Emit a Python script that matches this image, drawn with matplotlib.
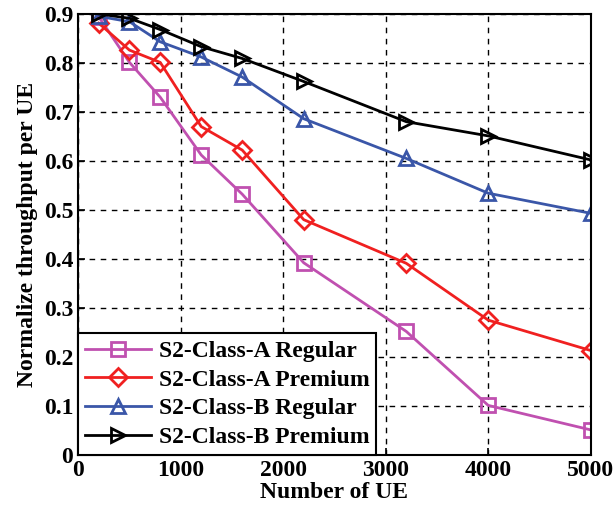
import matplotlib
matplotlib.use('Agg')
import matplotlib.pyplot as plt

# Throughput per UE versus the number of UEs for each service class
num_ue = [200, 500, 800, 1200, 1600, 2200, 3200, 4000, 5000]
class_a_regular = [0.894, 0.801, 0.730, 0.612, 0.532, 0.392, 0.252, 0.101, 0.051]
class_a_premium = [0.881, 0.826, 0.801, 0.670, 0.622, 0.480, 0.391, 0.275, 0.213]
class_b_regular = [0.895, 0.884, 0.843, 0.812, 0.771, 0.686, 0.605, 0.534, 0.493]
class_b_premium = [0.900, 0.891, 0.868, 0.833, 0.809, 0.762, 0.680, 0.651, 0.602]

labels = ['S2-Class-A Regular', 'S2-Class-A Premium',
          'S2-Class-B Regular', 'S2-Class-B Premium']
x_ticks = [0, 1000, 2000, 3000, 4000, 5000]
y_ticks = [0, 0.1, 0.2, 0.3, 0.4, 0.5, 0.6, 0.7, 0.8, 0.9]
y_tick_labels = ['0', '0.1', '0.2', '0.3', '0.4', '0.5', '0.6', '0.7', '0.8', '0.9']

plt.rcParams['font.family'] = ['Liberation Serif', 'DejaVu Serif']
plt.rcParams['font.weight'] = 'bold'

fig = plt.figure(figsize=(6.16, 5.14), dpi=100)
ax = fig.add_axes([0.127, 0.115, 0.832, 0.858])

styles = [
    ('#C050B0', 's'),
    ('#F02020', 'D'),
    ('#3A56A8', '^'),
    ('#000000', '>'),
]
series = [class_a_regular, class_a_premium, class_b_regular, class_b_premium]

for values, label, (color, marker) in zip(series, labels, styles):
    ms = 10 if marker != 'D' else 9
    ax.plot(num_ue, values, color=color, linewidth=2, marker=marker,
            markersize=ms, markerfacecolor='none', markeredgecolor=color,
            markeredgewidth=2, label=label)

ax.set_xlim(0, 5000)
ax.set_ylim(0, 0.9)
ax.set_xticks(x_ticks)
ax.set_yticks(y_ticks)
ax.set_yticklabels(y_tick_labels)
ax.tick_params(direction='in', labelsize=17, length=5, width=1.2)
for lbl in ax.get_xticklabels() + ax.get_yticklabels():
    lbl.set_fontweight('bold')

ax.grid(True, color='black', linestyle=(0, (4, 4)), linewidth=1)
for spine in ax.spines.values():
    spine.set_linewidth(1.5)

ax.set_xlabel('Number of UE', fontsize=17, fontweight='bold', labelpad=1)
ax.set_ylabel('Normalize throughput per UE', fontsize=17, fontweight='bold', labelpad=4)

leg = ax.legend(loc='lower left', fontsize=17, frameon=True, fancybox=False,
                borderaxespad=0, handlelength=2.8, handletextpad=0.3,
                labelspacing=0.3, borderpad=0.3)
leg.get_frame().set_edgecolor('black')
leg.get_frame().set_linewidth(1.5)
leg.get_frame().set_alpha(1)
for t in leg.get_texts():
    t.set_fontweight('bold')

fig.savefig('out.png', dpi=100)
